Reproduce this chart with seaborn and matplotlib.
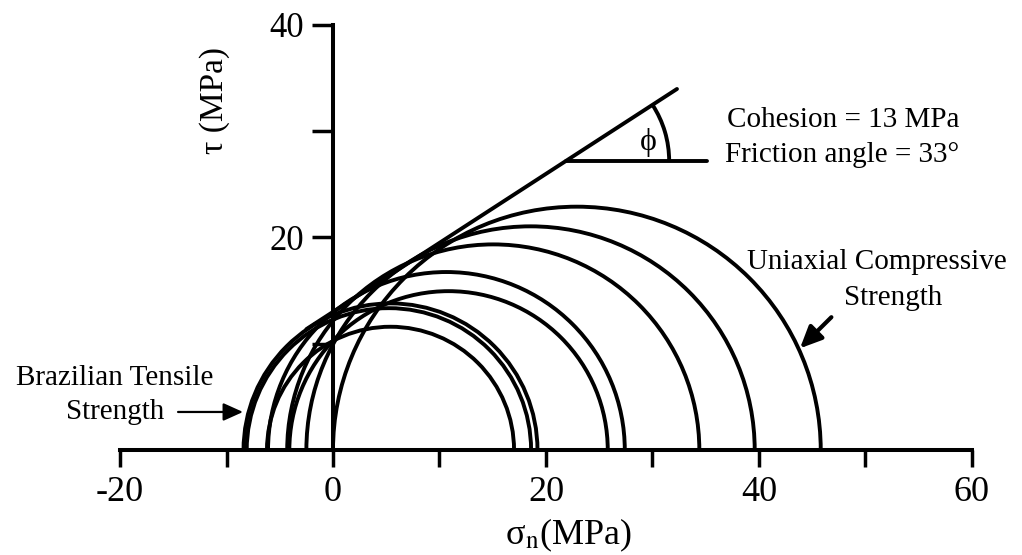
import matplotlib
matplotlib.use("Agg")
import matplotlib.pyplot as plt
from matplotlib.patches import Arc
import seaborn as sns
import numpy as np
import pandas as pd

# ---- data ----
circle_left = [0.0, -2.5, -4.3, -6.1, -4.1, -8.4, -8.1, -6.2]
circle_right = [45.8, 39.6, 34.4, 27.4, 25.8, 19.2, 18.6, 17.0]
cohesion = 13.0          # MPa
friction_angle = 33.0    # degrees
envelope_sigma = [-2.5, 32.3]
angle_tau = 27.2
angle_line_end = 35.1
x_ticks = [-20, -10, 0, 10, 20, 30, 40, 50, 60]
x_tick_labels = ["-20", "", "0", "", "20", "", "40", "", "60"]
y_ticks = [10, 20, 30, 40]
y_tick_labels = ["", "20", "", "40"]

sns.set_theme(style="white")
plt.rcParams["font.family"] = ["Liberation Serif", "DejaVu Serif"]
plt.rcParams["mathtext.fontset"] = "stix"
plt.rcParams["text.color"] = "black"

fig = plt.figure(figsize=(10.22, 5.55), dpi=100)
ax = fig.add_axes([0, 0, 1, 1])
ax.set_xlim(-31.27, 64.7)
ax.set_ylim(-9.88, 42.35)
ax.set_facecolor("white")

lw = 2.8
for L, R in zip(circle_left, circle_right):
    c = (L + R) / 2
    d = R - L
    ax.add_patch(Arc((c, 0), d, d, theta1=0, theta2=180, lw=lw, color="black"))

# failure envelope
env = pd.DataFrame({"sigma": envelope_sigma})
env["tau"] = cohesion + env["sigma"] * np.tan(np.radians(friction_angle))
sns.lineplot(data=env, x="sigma", y="tau", ax=ax, color="black", lw=lw)

# angle marker
x0 = (angle_tau - cohesion) / np.tan(np.radians(friction_angle))
ax.plot([x0, angle_line_end], [angle_tau, angle_tau], color="black", lw=lw)
ax.add_patch(Arc((x0, angle_tau), 19.4, 19.4, theta1=0, theta2=friction_angle,
                 lw=lw, color="black"))
ax.text(29.6, 28.9, "ϕ", fontsize=23, ha="center", va="center",
        family=["Liberation Serif", "DejaVu Serif"])

# spines as crossing axes
for s in ["top", "right"]:
    ax.spines[s].set_visible(False)
ax.spines["left"].set_position(("data", 0))
ax.spines["bottom"].set_position(("data", 0))
ax.spines["left"].set_bounds(0, 40)
ax.spines["bottom"].set_bounds(-20, 60)
for s in ["left", "bottom"]:
    ax.spines[s].set_linewidth(2.9)
    ax.spines[s].set_color("black")

ax.set_xticks(x_ticks)
ax.set_xticklabels(x_tick_labels)
ax.set_yticks(y_ticks)
ax.set_yticklabels(y_tick_labels)
ax.tick_params(axis="x", direction="out", length=12, width=2.5, pad=7,
               labelsize=26, colors="black", labelcolor="black", bottom=True)
ax.tick_params(axis="y", direction="out", length=15, width=2.5, pad=6,
               labelsize=25, colors="black", labelcolor="black", left=True)
ax.set_xlabel("")
ax.set_ylabel("")

# labels
ax.text(-11.08, 32.9, "τ (MPa)", rotation=90, fontsize=24, ha="center", va="center")
ax.text(22.07, -8.0, r"σ$_\mathrm{n}$(MPa)", fontsize=26, ha="center", va="center")

ax.text(47.9, 31.06, "Cohesion = 13 MPa", fontsize=21, ha="center", va="center")
ax.text(47.8, 27.76, "Friction angle = 33°", fontsize=21, ha="center", va="center")
ax.text(51.1, 17.7, "Uniaxial Compressive", fontsize=21, ha="center", va="center")
ax.text(52.6, 14.3, "Strength", fontsize=21, ha="center", va="center")
ax.text(-20.5, 6.78, "Brazilian Tensile", fontsize=21, ha="center", va="center")
ax.text(-20.5, 3.58, "Strength", fontsize=21, ha="center", va="center")

ax.annotate("", xy=(-8.45, 3.58), xytext=(-14.55, 3.58),
            arrowprops=dict(arrowstyle="-|>,head_length=1.0,head_width=0.45",
                            lw=1.6, color="black", shrinkA=0, shrinkB=0))
ax.annotate("", xy=(43.85, 9.57), xytext=(46.8, 12.5),
            arrowprops=dict(arrowstyle="-|>,head_length=1.1,head_width=0.5",
                            lw=3.0, color="black", shrinkA=0, shrinkB=0))

fig.savefig("out.png", dpi=100, facecolor="white")
